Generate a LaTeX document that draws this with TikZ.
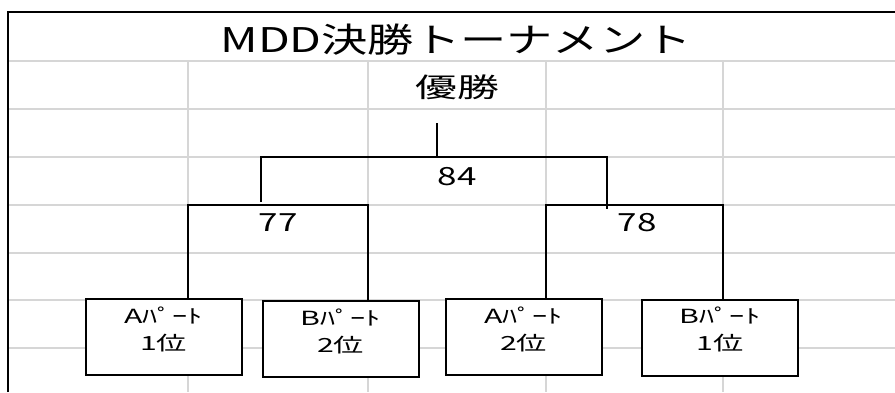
\documentclass[tikz,border=0pt]{standalone}
\usepackage{fontspec}
\setmainfont{Noto Sans CJK JP}
\usepackage{graphicx}
\definecolor{gridgray}{HTML}{D6D6D6}
\newcommand{\wide}[2][1.4]{\scalebox{#1}[1]{#2}}
\newcommand{\parttext}[2]{\wide[1.55]{\begin{tabular}[t]{@{}c@{}}#1\\#2\end{tabular}}}
\tikzset{
  gridline/.style={draw=gridgray, line width=1.6pt},
  bracket/.style={line width=2pt},
  partbox/.style={draw, fill=white, line width=2pt, inner sep=0pt,
    minimum width=156pt, minimum height=76pt,
    font=\fontsize{19.5}{27}\selectfont, text height=20pt, text depth=48pt},
  score/.style={anchor=base, font=\fontsize{25}{28}\selectfont}
}

\begin{document}
\begin{tikzpicture}[x=1pt, y=-1pt]
  \useasboundingbox (0,0) rectangle (895,392);
  % sheet grid
  \foreach \y in {61,109,157,205,253,300,348}
    \draw[gridline] (8,\y) -- (895,\y);
  \foreach \x in {188,368,546,723}
    \draw[gridline] (\x,61) -- (\x,392);
  \draw[line width=2.2pt] (8,392) -- (8,12) -- (895,12);

  \node[anchor=base, font=\fontsize{34}{40}\selectfont] (title) at (456,52) {\wide[1.36]{MDD決勝トーナメント}};
  \node[anchor=base, font=\fontsize{27}{30}\selectfont] (win) at (457,97) {\wide[1.55]{優勝}};
  \node[score] (n84) at (457,185) {\wide{84}};
  \node[score] (n77) at (278,231) {\wide{77}};
  \node[score] (n78) at (637,231) {\wide{78}};

  \node[partbox] (a1) at (163.5,337) {\parttext{Aﾊﾟｰﾄ}{1位}};
  \node[partbox] (b2) at (340.5,339) {\parttext{Bﾊﾟｰﾄ}{2位}};
  \node[partbox] (a2) at (523.5,337) {\parttext{Aﾊﾟｰﾄ}{2位}};
  \node[partbox] (b1) at (720,337.5) {\parttext{Bﾊﾟｰﾄ}{1位}};

  \coordinate (champ) at (437,123);
  \coordinate (j84) at (437,157);
  \coordinate (f84l) at (261,157);
  \coordinate (f84r) at (607,157);
  \coordinate (s77) at (261,202);
  \coordinate (s78) at (607,209);
  \coordinate (h77l) at (188,205);
  \coordinate (h77r) at (368,205);
  \coordinate (h78l) at (546,205);
  \coordinate (h78r) at (723,205);

  \draw[line width=1.6pt] (champ) -- (j84);
  \draw[line width=1.4pt] (s77) -- (f84l) -- (f84r) -- (s78);
  \draw[bracket] (a1.north -| h77l) -- (h77l) -- (h77r) -- (b2.north -| h77r);
  \draw[bracket] (a2.north -| h78l) -- (h78l) -- (h78r) -- (b1.north -| h78r);
\end{tikzpicture}
\end{document}
